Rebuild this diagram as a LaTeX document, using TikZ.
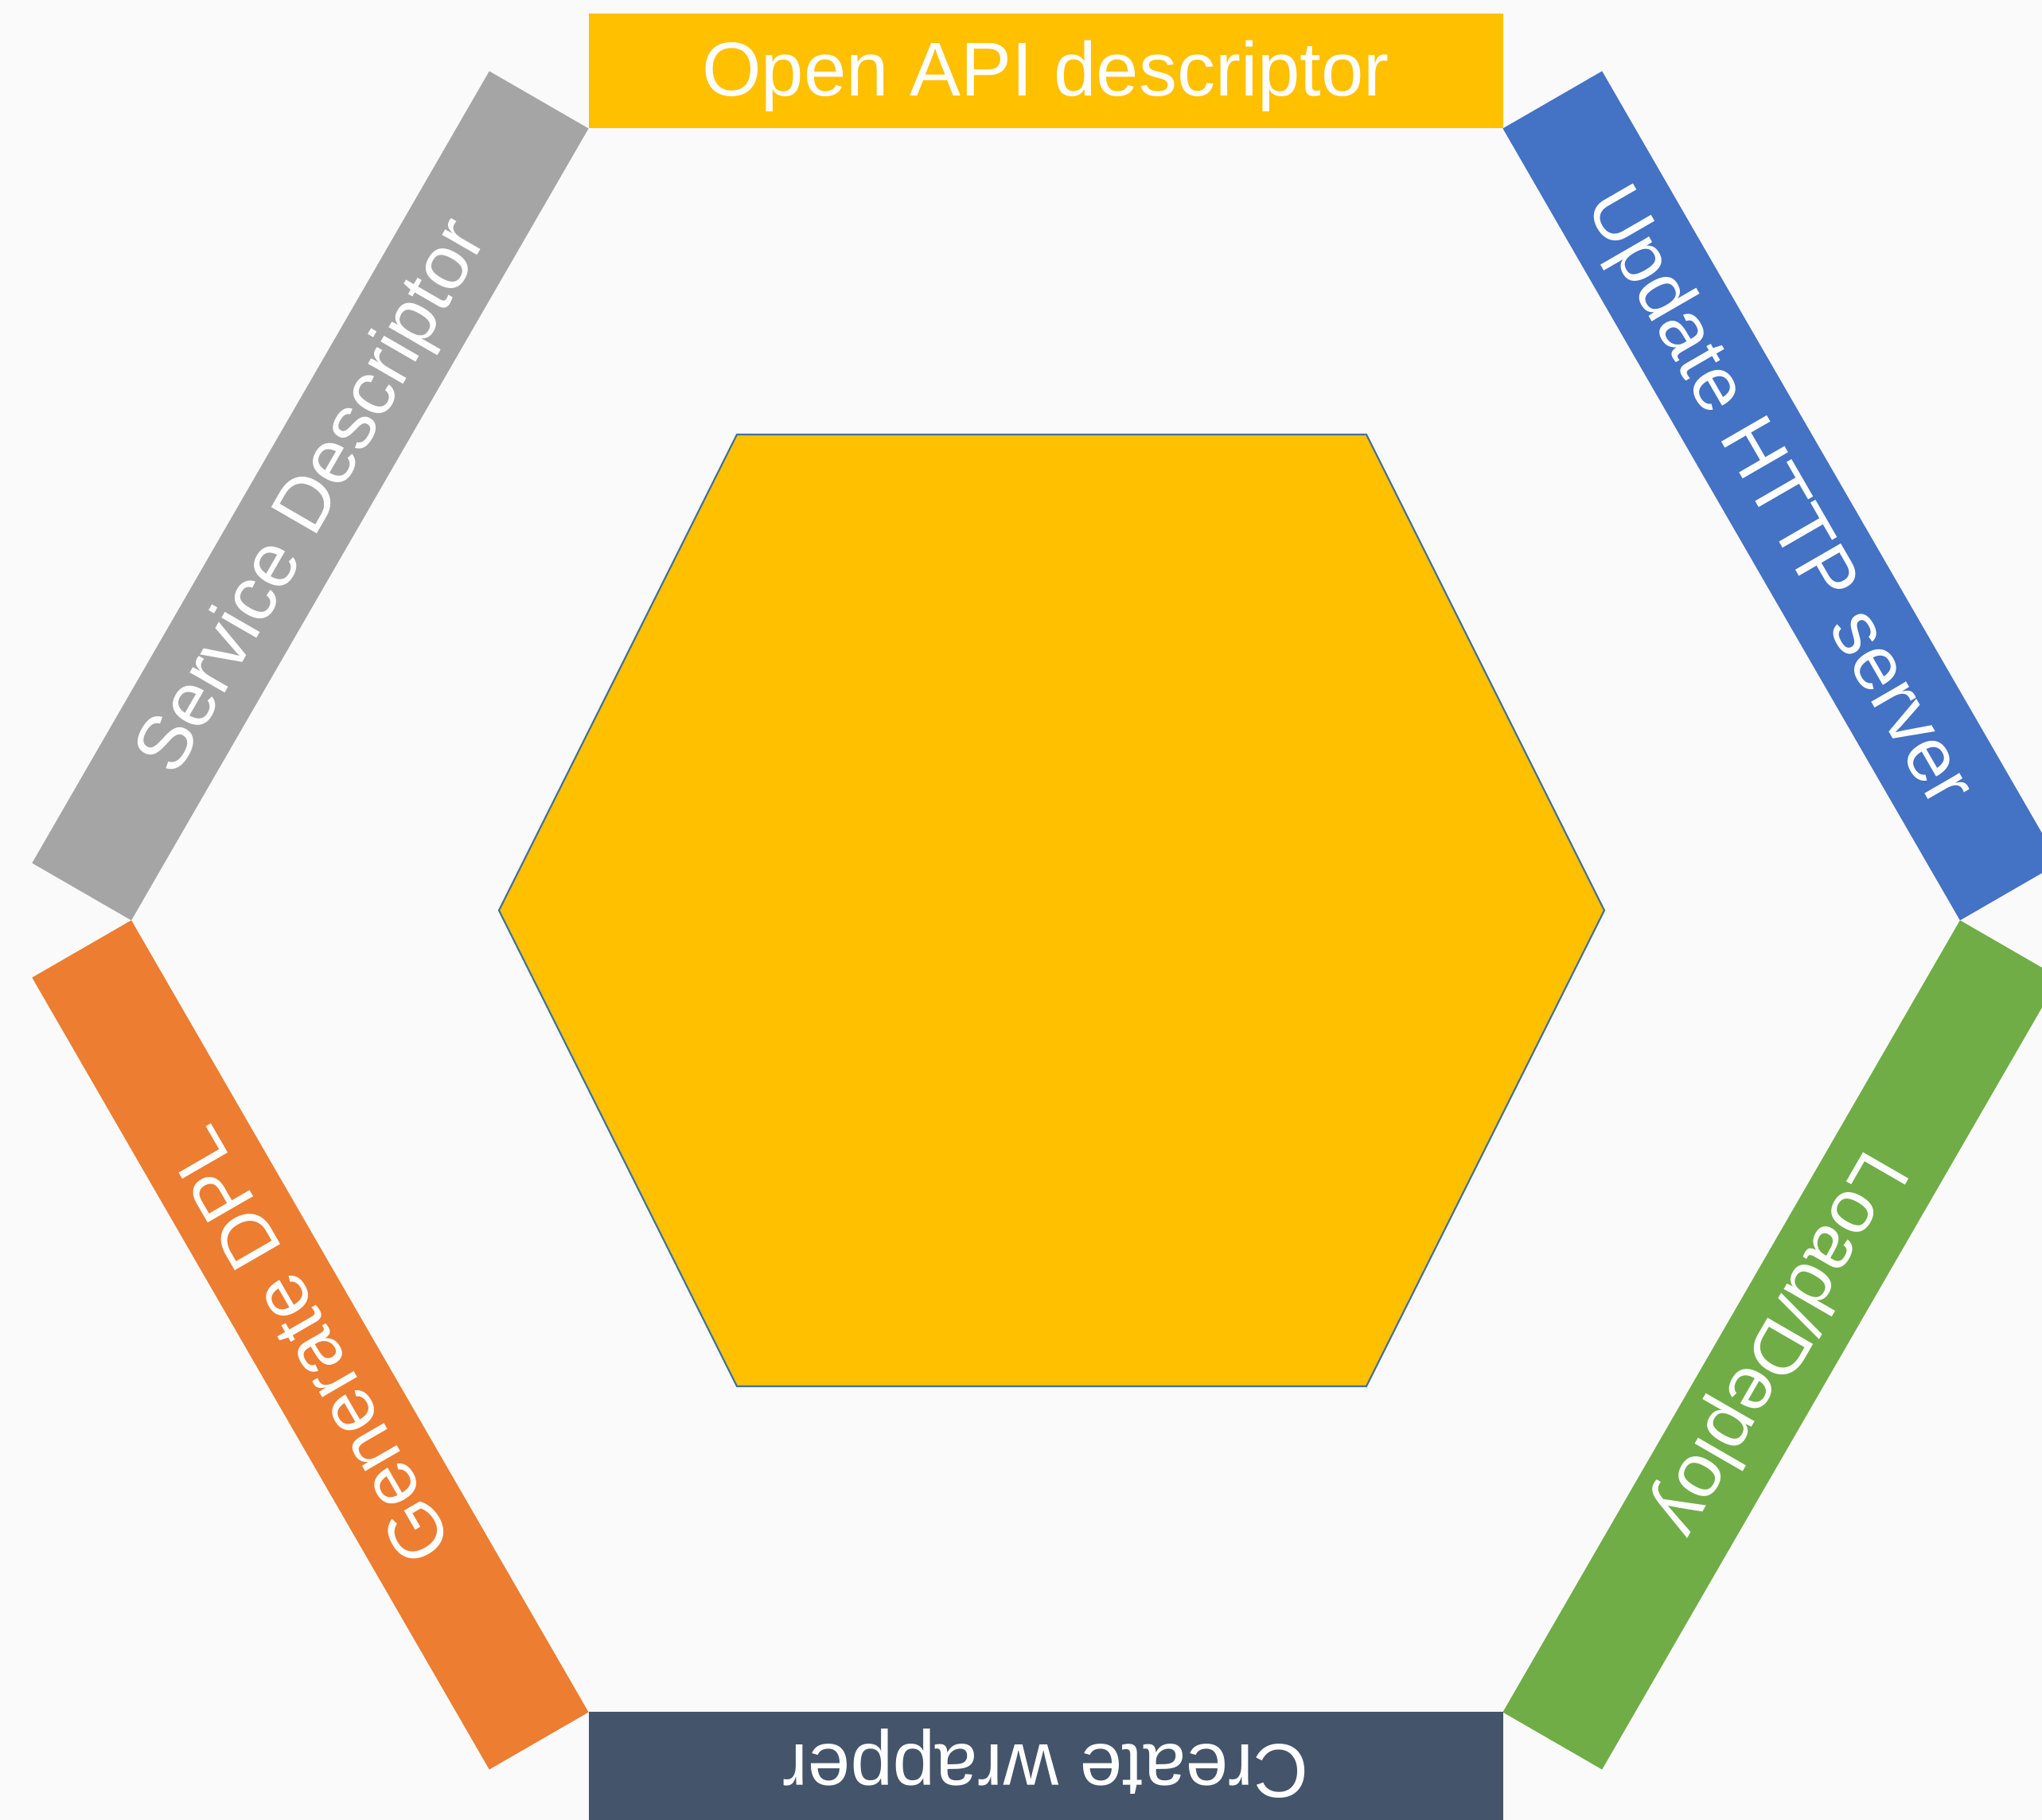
\documentclass[tikz,border=0pt]{standalone}
\usepackage{fontspec}
\setmainfont{Liberation Sans}
\usepackage{tikz}

\definecolor{zemin}{HTML}{FAFAFA}
\definecolor{sari}{HTML}{FFC000}
\definecolor{mavi}{HTML}{4472C4}
\definecolor{yesil}{HTML}{70AD47}
\definecolor{koyu}{HTML}{44546A}
\definecolor{turuncu}{HTML}{ED7D31}
\definecolor{gri}{HTML}{A5A5A5}
\definecolor{cizgi}{HTML}{41719C}

\begin{document}
\begin{tikzpicture}[
    barlabel/.style={text=white, font=\fontsize{27.3}{33}\selectfont, anchor=base, inner sep=0pt},
    core/.style={fill=sari, draw=cizgi, line width=0.6pt, line join=miter}]

        % ZEMIN
        \fill[zemin] (0,0) rectangle (25.66,22.87);
        \useasboundingbox (0,0) rectangle (25.66,22.87);
        \clip (0,0) rectangle (25.66,22.87);
        \coordinate (merkez) at (13.14,11.305);

        % DIS ALTIGEN SERITLER
        \foreach \aci/\renk/\yazi [count=\i] in {0/sari/{Open API descriptor}, -60/mavi/{Update HTTP server},
            -120/yesil/{Load/Deploy}, 180/koyu/{Create wrapper}, 120/turuncu/{Generate DPL}, 60/gri/{Service Descriptor}}
        {
            \begin{scope}[shift={(merkez)}, rotate=\aci]
                \fill[\renk] (-5.745,9.95) rectangle (5.745,11.39);
                \node[barlabel, rotate=\aci] (serit\i) at (0,10.36) {\yazi};
            \end{scope}
        }

        % ORTA ALTIGEN
        \draw[core] (9.26,17.41) -- (17.17,17.41) -- (20.16,11.43) -- (17.17,5.45) -- (9.26,5.45) -- (6.27,11.43) -- cycle;
    \end{tikzpicture}
\end{document}
